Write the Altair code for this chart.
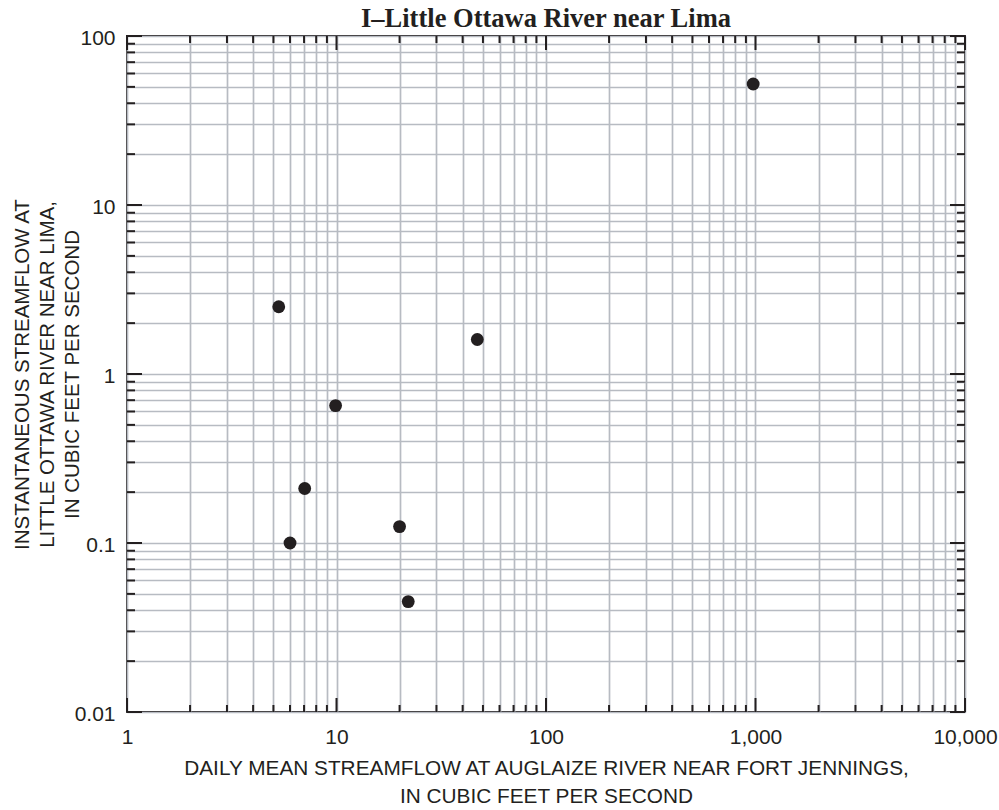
import altair as alt
import pandas as pd

# ---- data ----
aug_flow = [5.3, 47.0, 9.9, 7.05, 20.0, 6.0, 22.0, 975.0]        # x, ft3/s
lima_flow = [2.5, 1.6, 0.65, 0.21, 0.125, 0.1, 0.045, 52.0]        # y, ft3/s

x_decades = [1, 10, 100, 1000, 10000]
y_decades = [0.01, 0.1, 1, 10, 100]
mantissas = [2, 3, 4, 5, 6, 7, 8, 9]

x_minor = [round(m * d, 6) for d in x_decades[:-1] for m in mantissas]
y_minor = [round(m * d, 6) for d in y_decades[:-1] for m in mantissas]
x_grid = sorted(x_decades + x_minor)
y_grid = sorted(y_decades + y_minor)

title_text = ["I\u2013Little Ottawa River near Lima"]
x_title = ["DAILY MEAN STREAMFLOW AT AUGLAIZE RIVER NEAR FORT JENNINGS,",
           "IN CUBIC FEET PER SECOND"]
y_title = ["INSTANTANEOUS STREAMFLOW AT",
           "LITTLE OTTAWA RIVER NEAR LIMA,",
           "IN CUBIC FEET PER SECOND"]

W, H = 838, 676
INK = "#231f20"
GRID = "#b7bbc2"
SANS = "Liberation Sans"

xs = alt.Scale(type="log", domain=[1, 10000], nice=False)
ys = alt.Scale(type="log", domain=[0.01, 100], nice=False)

label_expr = ("abs(log(datum.value)/LN10 - round(log(datum.value)/LN10)) < 0.001"
              " ? format(datum.value, ',') : ''")

AX_X = alt.Axis(
    values=x_grid, labelExpr=label_expr, title=x_title,
    grid=True, gridColor=GRID, gridWidth=1.7, ticks=False, domain=False,
    labelFlush=False, labelOverlap=False, labelPadding=14,
    labelFont=SANS, labelFontSize=21, labelColor=INK,
    titleFont=SANS, titleFontSize=20.8, titleFontWeight="normal", titleColor=INK,
    titleLineHeight=28, titleX=W / 2, titleY=56, titleBaseline="middle",
    titleAlign="center")
AX_Y = alt.Axis(
    values=y_grid, labelExpr=label_expr, title=y_title,
    grid=True, gridColor=GRID, gridWidth=1.7, ticks=False, domain=False,
    labelFlush=False, labelOverlap=False, labelPadding=12, labelOffset=2,
    labelFont=SANS, labelFontSize=21, labelColor=INK,
    titleFont=SANS, titleFontSize=20.5, titleFontWeight="normal", titleColor=INK,
    titleLineHeight=25, titleX=-105, titleY=H / 2, titleAngle=-90,
    titleBaseline="middle", titleAlign="center")

pts = pd.DataFrame({"x": aug_flow, "y": lima_flow})

points = alt.Chart(pts).mark_circle(size=165, opacity=1, color=INK).encode(
    x=alt.X("x:Q", scale=xs, axis=AX_X),
    y=alt.Y("y:Q", scale=ys, axis=AX_Y),
)


def xticks(vals, y0, y1):
    d = pd.DataFrame({"x": vals})
    return alt.Chart(d).mark_rule(color=INK, strokeWidth=2).encode(
        x=alt.X("x:Q", scale=xs, axis=AX_X),
        y=alt.value(y0), y2=alt.value(y1))


def yticks(vals, x0, x1):
    d = pd.DataFrame({"y": vals})
    return alt.Chart(d).mark_rule(color=INK, strokeWidth=2).encode(
        y=alt.Y("y:Q", scale=ys, axis=AX_Y),
        x=alt.value(x0), x2=alt.value(x1))


MIN_L, MAJ_L = 7, 14
tick_layers = [
    xticks(x_minor, H, H - MIN_L), xticks(x_decades, H, H - MAJ_L),
    xticks(x_minor, 0, MIN_L), xticks(x_decades, 0, MAJ_L),
    yticks(y_minor, 0, MIN_L + 1), yticks(y_decades, 0, MAJ_L + 1),
    yticks(y_minor, W, W - MIN_L - 1), yticks(y_decades, W, W - MAJ_L - 1),
]

title_layer = alt.Chart(pd.DataFrame({"t": title_text})).mark_text(
    font="Liberation Serif", fontSize=26.5, fontWeight="bold", color=INK,
    align="center", baseline="alphabetic").encode(
    text="t:N", x=alt.value(W / 2), y=alt.value(-9))

chart = alt.layer(points, *tick_layers, title_layer).properties(
    width=W, height=H,
    background="white",
    autosize=alt.AutoSizeParams(type="none"),
    padding={"left": 127, "top": 36, "right": 34, "bottom": 98},
).configure_view(stroke=INK, strokeWidth=2)

chart.save("out.html", embed_options={"renderer": "svg", "actions": False})
